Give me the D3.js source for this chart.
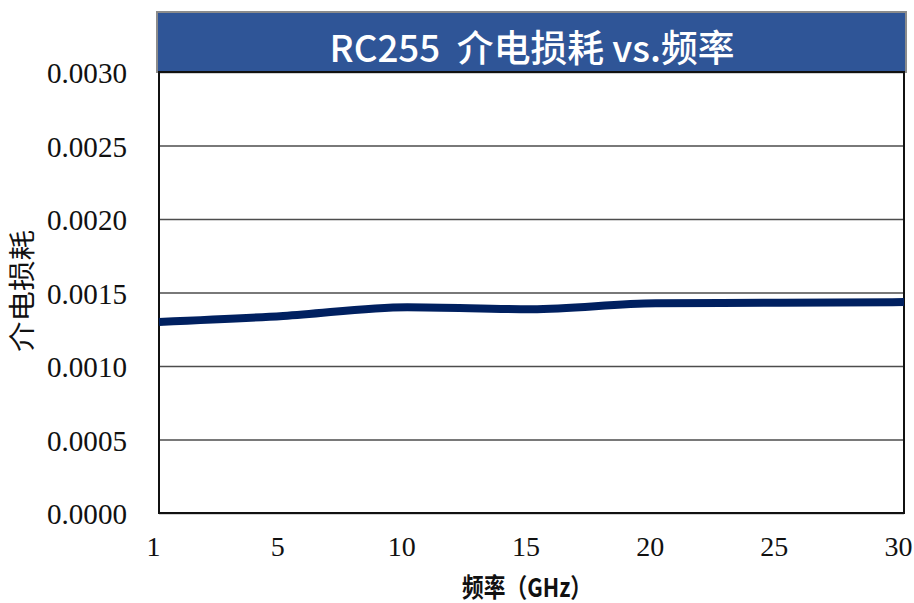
<!DOCTYPE html>
<html><head><meta charset="utf-8">
<script src="https://cdn.jsdelivr.net/npm/d3@7"></script>
<style>body{margin:0;background:#fff}svg{display:block}</style>
</head><body>
<svg id="c" width="914" height="603"></svg>
<script>
const categories = ["1","5","10","15","20","25","30"];
const lossValues = [0.00130, 0.00134, 0.00140, 0.001386, 0.001427, 0.00143, 0.001435];
const yTicks = [0, 0.0005, 0.0010, 0.0015, 0.0020, 0.0025, 0.0030];
const titleText = "RC255  介电损耗 vs.频率";
const xTitle = "频率（GHz）";
const yTitle = "介电损耗";

const svg = d3.select("#c");
const L = 159, R = 904, T = 72, B = 513;
const x = d3.scalePoint().domain(categories).range([L, R]);
const y = d3.scaleLinear().domain([0, 0.003]).range([B, T]);

// title box
svg.append("rect").attr("x", 157).attr("y", 12).attr("width", 749).attr("height", 60)
  .attr("fill", "#2F5597").attr("stroke", "#8c8c8c").attr("stroke-width", 2);
svg.append("text").attr("x", 532).attr("y", 62).attr("text-anchor", "middle")
  .style("white-space", "pre")
  .attr("fill", "#fff").attr("font-family", "'Noto Sans CJK SC', sans-serif").attr("font-weight", 500)
  .attr("font-size", 37).attr("textLength", 405).attr("lengthAdjust", "spacingAndGlyphs")
  .text(titleText);

// gridlines
const yAxis = d3.axisLeft(y).tickValues(yTicks).tickSize(-(R - L)).tickFormat(d3.format(".4f"));
const gy = svg.append("g").attr("transform", `translate(${L},0)`).call(yAxis);
gy.select(".domain").remove();
gy.selectAll(".tick line").attr("stroke", "#4d4d4d").attr("stroke-width", 1.3);
gy.selectAll(".tick text").attr("x", -32).attr("dy", "0.35em")
  .attr("font-family", "'Liberation Serif', serif").attr("font-size", 30).attr("fill", "#111")
  .attr("textLength", 80).attr("lengthAdjust", "spacingAndGlyphs");

// x axis labels
const xAxis = d3.axisBottom(x).tickSize(0);
const gx = svg.append("g").attr("transform", `translate(0,${B})`).call(xAxis);
gx.select(".domain").remove();
gx.selectAll(".tick text").attr("y", 23).attr("dx", -6).attr("dy", "0.71em")
  .attr("font-family", "'Liberation Serif', serif").attr("font-size", 28).attr("fill", "#111");

// frame
svg.append("rect").attr("x", L).attr("y", T).attr("width", R - L).attr("height", B - T)
  .attr("fill", "none").attr("stroke", "#111").attr("stroke-width", 2);

// line
const line = d3.line().x((d, i) => x(categories[i])).y(d => y(d)).curve(d3.curveMonotoneX);
svg.append("path").datum(lossValues).attr("d", line)
  .attr("fill", "none").attr("stroke", "#002060").attr("stroke-width", 8);

// axis titles
svg.append("text").attr("x", 527).attr("y", 597).attr("text-anchor", "middle")
  .attr("font-family", "'Noto Sans CJK SC', sans-serif").attr("font-weight", "bold")
  .attr("font-size", 26).attr("fill", "#111").attr("textLength", 130).attr("lengthAdjust", "spacingAndGlyphs")
  .text(xTitle);
svg.append("text").attr("transform", "translate(32,291) rotate(-90)").attr("text-anchor", "middle")
  .attr("font-family", "'Noto Sans CJK SC', sans-serif")
  .attr("font-size", 27).attr("fill", "#111").attr("textLength", 122).attr("lengthAdjust", "spacingAndGlyphs")
  .text(yTitle);
</script>
</body></html>
